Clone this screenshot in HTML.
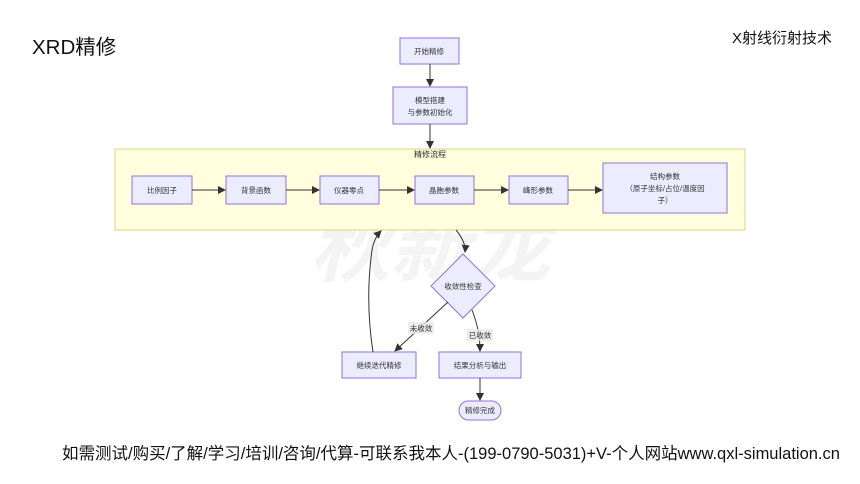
<!DOCTYPE html>
<html><head><meta charset="utf-8"><style>
body{margin:0;width:860px;height:484px;background:#fff;overflow:hidden;font-family:"Liberation Sans","Noto Sans CJK SC",sans-serif;position:relative}
.t{position:absolute;white-space:nowrap}
</style></head><body>
<div class="t" style="left:32px;top:30px;font-size:20.5px;color:#111">XRD精修</div>
<div class="t" style="left:732px;top:27px;font-size:15px;color:#111">X射线衍射技术</div>
<svg width="860" height="484" style="position:absolute;left:0;top:0" font-family="Liberation Sans, Noto Sans CJK SC, sans-serif">
<defs><marker id="a" markerWidth="8" markerHeight="8" refX="7" refY="4" orient="auto" markerUnits="userSpaceOnUse"><path d="M0,0L8,4L0,8z" fill="#333"/></marker></defs>
<text x="430" y="275" font-size="80" fill="#f4f4f4" text-anchor="middle" font-weight="bold" font-style="italic">秋新龙</text>
<rect x="115" y="149" width="630" height="81" fill="#ffffde" stroke="#d6d68a"/>
<text x="430" y="157" font-size="8" fill="#333" text-anchor="middle">精修流程</text>
<g fill="#ececff" stroke="#9370db" stroke-width="1">
<rect x="400" y="38" width="59" height="26"/>
<rect x="393" y="87" width="74" height="37"/>
<rect x="132" y="176" width="60" height="28"/>
<rect x="226" y="176" width="60" height="28"/>
<rect x="320" y="176" width="59" height="28"/>
<rect x="415" y="176" width="59" height="28"/>
<rect x="509" y="176" width="59" height="28"/>
<rect x="603" y="163" width="124" height="50"/>
<polygon points="463,254 495,286 463,318 431,286"/>
<rect x="342" y="352" width="74" height="26"/>
<rect x="439" y="352" width="82" height="26"/>
<rect x="459" y="401" width="42" height="19" rx="9.5"/>
</g>
<g stroke="#333" stroke-width="1" fill="none" marker-end="url(#a)">
<line x1="430" y1="64" x2="430" y2="86"/>
<line x1="430" y1="124" x2="430" y2="148"/>
<line x1="192" y1="190" x2="225" y2="190"/>
<line x1="286" y1="190" x2="319" y2="190"/>
<line x1="379" y1="190" x2="414" y2="190"/>
<line x1="474" y1="190" x2="508" y2="190"/>
<line x1="568" y1="190" x2="602" y2="190"/>
<path d="M456,230 Q466,242 465,252"/>
<path d="M448,302 L395,351"/>
<path d="M472,310 Q480,330 480,351"/>
<path d="M373,352 Q365,300 372,250 Q374,238 381,231"/>
<line x1="480" y1="378" x2="480" y2="400"/>
</g>
<g font-size="7.5" fill="#333" text-anchor="middle">
<text x="429" y="54">开始精修</text>
<text x="430" y="103">模型搭建</text>
<text x="430" y="115">与参数初始化</text>
<text x="162" y="193">比例因子</text>
<text x="256" y="193">背景函数</text>
<text x="349" y="193">仪器零点</text>
<text x="444" y="193">晶胞参数</text>
<text x="538" y="193">峰形参数</text>
<text x="665" y="179">结构参数</text>
<text x="665" y="191">（原子坐标/占位/温度因</text>
<text x="665" y="203">子）</text>
<text x="463" y="289">收敛性检查</text>
<text x="379" y="368">继续迭代精修</text>
<text x="480" y="368">结果分析与输出</text>
<text x="480" y="413">精修完成</text>
</g>
<rect x="408" y="322" width="26" height="12" fill="#e8e8e8" opacity=".8"/>
<text x="421" y="331" font-size="7.5" fill="#333" text-anchor="middle">未收敛</text>
<rect x="467" y="329" width="26" height="12" fill="#e8e8e8" opacity=".8"/>
<text x="480" y="338" font-size="7.5" fill="#333" text-anchor="middle">已收敛</text>
</svg>
<div class="t" style="left:62px;top:440px;font-size:16.5px;color:#111">如需测试/购买/了解/学习/培训/咨询/代算-可联系我本人-(199-0790-5031)+V-个人网站www.qxl-simulation.cn</div>
</body></html>
